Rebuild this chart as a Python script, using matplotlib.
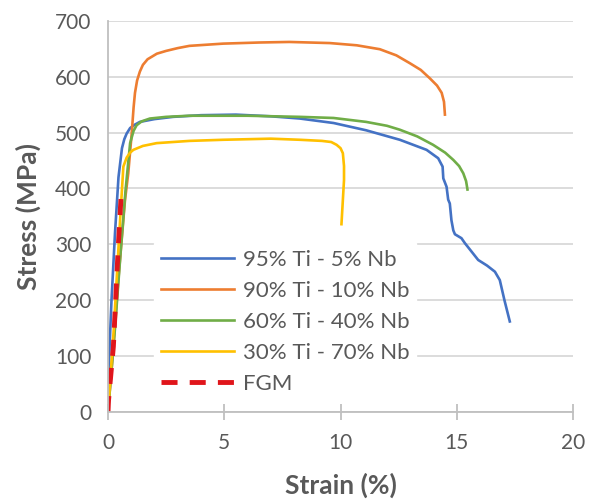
import numpy as np
import matplotlib.pyplot as plt

plt.rcParams['font.family'] = ['Lato', 'DejaVu Sans']

# stress-strain curves (strain %, stress MPa)
ti95_strain = [0, 0.05, 0.15, 0.3, 0.45, 0.6, 0.7, 0.8, 0.95, 1.15, 1.37, 2.0, 2.8, 4.0, 5.5,
               7.0, 8.25, 9.7, 11.1, 12.55, 13.7, 14.2, 14.39, 14.42, 14.56, 14.63, 14.7,
               14.77, 14.85, 14.92, 15.2, 15.35, 15.92, 16.3, 16.64, 16.85, 17.05, 17.28]
ti95_stress = [0, 100, 200, 320, 420, 472, 488, 498, 508, 514, 519, 524, 528, 531, 532,
               529, 525, 517, 504, 487, 469, 454, 439, 418, 403, 380, 373,
               343, 325, 318, 311, 302, 272, 262, 251, 236, 200, 162]

ti90_strain = [0, 0.2, 0.45, 0.73, 0.87, 1.02, 1.1, 1.16, 1.25, 1.37, 1.5, 1.7, 2.1, 2.5,
               3.0, 3.5, 4.95, 6.5, 7.8, 9.54, 10.7, 11.69, 12.4, 12.98, 13.45, 13.84,
               14.15, 14.35, 14.45, 14.49]
ti90_stress = [0, 100, 240, 379, 427, 499, 545, 571, 593, 609, 621, 631, 641, 646,
               651, 655, 659, 661, 662, 660, 656, 649, 638, 624, 612, 597,
               584, 571, 555, 532]

ti60_strain = [0, 0.3, 0.55, 0.75, 0.95, 1.1, 1.23, 1.45, 1.8, 2.5, 3.5, 6.0, 8.25, 9.7,
               11.1, 12.0, 12.55, 13.3, 13.98, 14.5, 14.85, 15.1, 15.28, 15.4, 15.46]
ti60_stress = [0, 150, 290, 395, 481, 503, 513, 520, 525, 528, 530, 530, 528, 526,
               519, 512, 505, 493, 478, 464, 451, 440, 427, 413, 398]

ti30_strain = [0, 0.25, 0.5, 0.66, 0.8, 0.95, 1.09, 1.5, 2.09, 3.5, 4.95, 7.0, 8.25, 9.2,
               9.6, 9.83, 10.0, 10.1, 10.15, 10.15, 10.04]
ti30_stress = [0, 150, 330, 439, 455, 464, 469, 476, 481, 485, 487, 489, 487, 485,
               483, 478, 472, 463, 440, 415, 336]

fgm_strain = [0, 0.02, 0.23, 0.37, 0.44, 0.56]
fgm_stress = [0, 20, 117, 236, 296, 385]

labels = ['95% Ti - 5% Nb', '90% Ti - 10% Nb', '60% Ti - 40% Nb', '30% Ti - 70% Nb', 'FGM']

fig = plt.figure(figsize=(5.89, 4.99), dpi=100)
ax = fig.add_axes([0.1834, 0.1743, 0.7895, 0.7842])

lw = 1.9
ax.plot(ti95_strain, ti95_stress, color='#4472C4', lw=lw, label=labels[0])
ax.plot(ti90_strain, ti90_stress, color='#ED7D31', lw=lw, label=labels[1])
ax.plot(ti60_strain, ti60_stress, color='#70AD47', lw=lw, label=labels[2])
ax.plot(ti30_strain, ti30_stress, color='#FFC000', lw=lw, label=labels[3])
ax.plot(fgm_strain, fgm_stress, color='#E0151B', lw=3.5, ls=(0, (3.3, 2.5)), label=labels[4])

ax.set_xlim(0, 20)
ax.set_ylim(0, 700)
ax.set_xticks([0, 5, 10, 15, 20])
ax.set_yticks(np.arange(0, 701, 100))
ax.grid(axis='y', color='#D9D9D9', lw=1.3)
ax.set_axisbelow(True)

for s in ['top', 'right']:
    ax.spines[s].set_visible(False)
for s in ['left', 'bottom']:
    ax.spines[s].set_color('#BFBFBF')
    ax.spines[s].set_linewidth(1.3)

ax.tick_params(axis='x', direction='inout', length=12, width=1.3, color='#BFBFBF',
               labelsize=15, labelcolor='#595959', pad=9)
ax.tick_params(axis='y', length=0, labelsize=15, labelcolor='#595959', pad=12)

ax.set_xlabel('Strain (%)', fontsize=19, fontweight='bold', color='#595959', labelpad=14)
ax.set_ylabel('Stress (MPa)', fontsize=19, fontweight='bold', color='#595959', labelpad=10)

leg = ax.legend(loc='upper left', bbox_to_anchor=(0.075, 0.46), frameon=True, fontsize=16,
                handlelength=3.3, handletextpad=0.4, labelspacing=0.5, borderpad=0.3,
                fancybox=False)
leg.get_frame().set_edgecolor('white')
leg.get_frame().set_facecolor('white')
leg.get_frame().set_alpha(1)
for t in leg.get_texts():
    t.set_color('#595959')

fig.savefig('out.png', dpi=100)
